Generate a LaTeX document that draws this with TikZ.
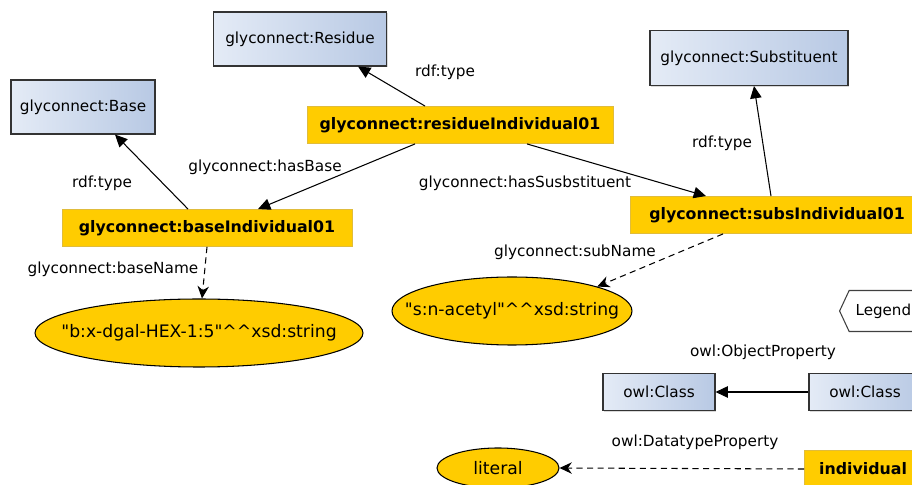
\documentclass[tikz,border=0pt]{standalone}
\usepackage{fontspec}
\setmainfont{DejaVu Sans}
\usepackage{tikz}
\usetikzlibrary{arrows.meta,shapes.geometric,shapes.symbols,shadows}

\definecolor{classlight}{RGB}{228,235,246}
\definecolor{classdark}{RGB}{184,201,228}
\definecolor{indyellow}{RGB}{255,204,0}
\definecolor{indedge}{RGB}{224,188,60}

\tikzset{
  owlclass/.style={draw=black!80, line width=0.6pt, left color=classlight, right color=classdark,
    drop shadow={shadow xshift=0.8pt, shadow yshift=-0.8pt, opacity=0.3},
    font=\fontsize{8.7}{10}\selectfont, inner sep=0pt},
  indiv/.style={draw=indedge, line width=0.5pt, fill=indyellow,
    font=\fontsize{9}{11}\selectfont\bfseries, inner sep=0pt},
  lit/.style={ellipse, draw=black, line width=0.6pt, fill=indyellow,
    font=\fontsize{9.8}{11}\selectfont, inner sep=0pt},
  lbl/.style={font=\fontsize{8.7}{10}\selectfont, inner sep=0pt},
  objprop/.style={-{Triangle[length=7pt,width=6.5pt]}, line width=0.6pt},
  dataprop/.style={-{Stealth[length=7pt,width=6.5pt]}, line width=0.6pt, dash pattern=on 3.5pt off 2.5pt},
}

\begin{document}
\begin{tikzpicture}
\useasboundingbox (0,0) rectangle (18.24,9.70);

% classes
\node[owlclass, minimum width=3.46cm, minimum height=1.08cm] (residueClass) at (6.00,8.92) {glyconnect:Residue};
\node[owlclass, minimum width=2.88cm, minimum height=1.08cm] (baseClass) at (1.66,7.56) {glyconnect:Base};
\node[owlclass, minimum width=3.96cm, minimum height=1.10cm] (subsClass) at (14.98,8.54) {glyconnect:Substituent};

% individuals
\node[indiv, minimum width=6.12cm, minimum height=0.74cm] (residueInd) at (9.20,7.20) {glyconnect:residueIndividual01};
\node[indiv, minimum width=5.80cm, minimum height=0.74cm] (baseInd) at (4.14,5.14) {glyconnect:baseIndividual01};
\node[indiv, minimum width=5.88cm, minimum height=0.74cm] (subsInd) at (15.54,5.40) {glyconnect:subsIndividual01};

% literals
\node[lit, minimum width=6.56cm, minimum height=1.36cm] (baseLit) at (3.98,3.04)
  {\makebox[0pt]{\textquotedbl b:x-dgal-HEX-1:5\textquotedbl\^{}\^{}xsd:string}};
\node[lit, minimum width=4.80cm, minimum height=1.36cm] (subsLit) at (10.24,3.48)
  {\makebox[0pt]{\textquotedbl s:n-acetyl\textquotedbl\^{}\^{}xsd:string}};

% property arrows
\draw[objprop] ([xshift=-0.70cm]residueInd.north) -- ([xshift=1.16cm]residueClass.south);
\draw[objprop] ([xshift=-0.38cm]baseInd.north) -- ([xshift=0.64cm]baseClass.south);
\draw[objprop] ([xshift=-0.90cm]residueInd.south) -- ([xshift=1.02cm]baseInd.north);
\draw[objprop] ([xshift=1.34cm]residueInd.south) -- ([xshift=-1.42cm]subsInd.north);
\draw[objprop] ([xshift=-0.12cm]subsInd.north) -- ([xshift=0.10cm]subsClass.south);
\draw[dataprop] (baseInd.south) -- ([xshift=0.06cm]baseLit.north);
\draw[dataprop] ([xshift=-1.08cm]subsInd.south) -- (subsLit.north east);

\node[lbl] (typeResidue) at (8.90,8.26) {rdf:type};
\node[lbl] (hasBase) at (5.30,6.36) {glyconnect:hasBase};
\node[lbl] (typeBase) at (2.04,6.04) {rdf:type};
\node[lbl] (hasSubs) at (10.50,6.04) {glyconnect:hasSusbstituent};
\node[lbl] (typeSubs) at (14.44,6.84) {rdf:type};
\node[lbl] (baseName) at (2.26,4.32) {glyconnect:baseName};
\node[lbl] (subName) at (11.50,4.66) {glyconnect:subName};

% legend
\node[signal, signal to=west, signal pointer angle=130, draw=black!75, line width=0.6pt, fill=white,
  font=\fontsize{8.6}{10}\selectfont, minimum width=1.56cm, minimum height=0.82cm, anchor=west] (legend) at (16.78,3.48) {Legend};
\node[owlclass, minimum width=2.24cm, minimum height=0.74cm] (legendTo) at (13.18,1.86) {owl:Class};
\node[owlclass, minimum width=2.24cm, minimum height=0.74cm] (legendFrom) at (17.30,1.86) {owl:Class};
\draw[objprop] (legendFrom.west) -- (legendTo.east);
\node[lbl] (objLabel) at (15.26,2.66) {owl:ObjectProperty};
\node[lit, minimum width=2.44cm, minimum height=0.80cm] (legendLit) at (9.96,0.34) {\makebox[0pt]{literal}};
\node[indiv, minimum width=2.34cm, minimum height=0.76cm] (legendInd) at (17.26,0.32) {individual};
\draw[dataprop] (legendInd.west) -- (legendLit.east);
\node[lbl] (dataLabel) at (13.90,0.86) {owl:DatatypeProperty};
\end{tikzpicture}
\end{document}
